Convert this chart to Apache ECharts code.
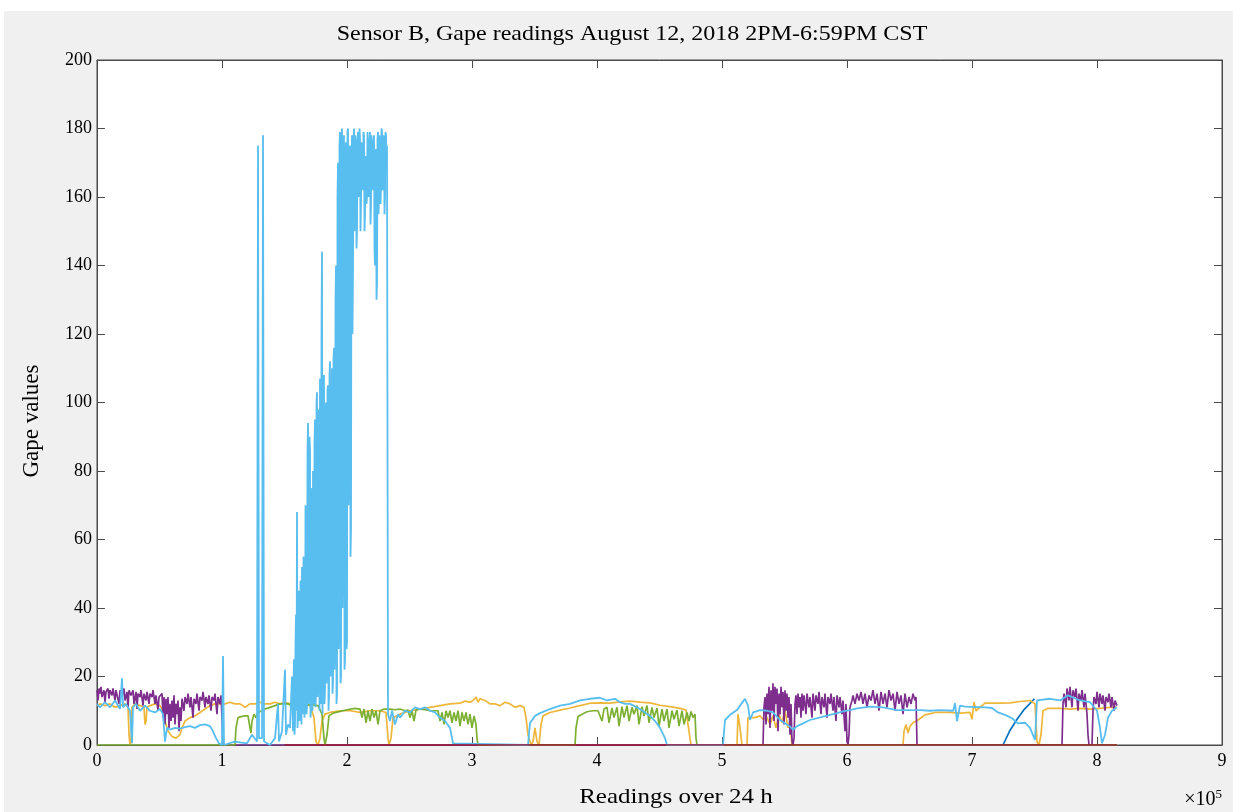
<!DOCTYPE html>
<html>
<head>
<meta charset="utf-8">
<script src="https://cdn.jsdelivr.net/npm/echarts@6/dist/echarts.min.js"></script>
<style>
html,body{margin:0;padding:0;background:#fff;width:1233px;height:812px;overflow:hidden;}
#chart{position:absolute;left:4px;top:11px;width:1229px;height:801px;background:#f0f0f0;}
</style>
</head>
<body>
<div id="chart"></div>
<script>
// x values are readings in units of 1e5
const xTicks = [0,1,2,3,4,5,6,7,8,9];
const yTicks = [0,20,40,60,80,100,120,140,160,180,200];

const lightBlueA = [
[0,12],[0.024,11],[0.064,12.5],[0.104,11],[0.144,13],[0.184,10.5],[0.2,19.5],[0.208,11],[0.232,12],[0.264,10],[0.28,0.5],[0.288,11],[0.312,12],[0.344,10],[0.384,11.5],[0.424,10],[0.464,9.5],[0.504,10.5],[0.528,9],[0.544,1],[0.56,5],[0.584,4.5],[0.624,5],[0.664,4.8],[0.704,5.2],[0.744,5.5],[0.784,5],[0.824,5.8],[0.864,6],[0.904,5.5],[0.928,4],[0.952,2],[0.976,0.5],[1.0,0],[1.008,26],[1.016,0],[1.1,1],[1.2,0.5],[1.24,3],[1.28,1],[1.288,175],[1.296,2],[1.32,2],[1.328,178],[1.336,1],[1.384,0],[1.424,2],[1.448,12],[1.456,1],[1.48,4],[1.504,22],[1.512,3],[1.528,6],[1.544,5],[1.56,20]
];
// dense burst of readings between 1.568e5 and 2.32e5
const blueBurstStart = 1.568;
const blueBurstEnd = 2.32;
const blueBurstY = [
4,18,25,3,6,30,38,10,68,5,8,40,45,7,10,48,30,6,52,15,9,55,42,8,12,70,60,9,11,85,94,12,14,90,86,8,10,65,75,10,80,15,12,88,95,11,15,100,103,14,18,92,98,10,107,16,12,120,144,9,20,104,108,12,16,96,100,18,22,104,105,10,14,108,112,20,25,100,110,15,18,113,116,22,30,130,140,12,15,160,170,28,35,175,179,18,20,178,180,40,60,176,178,22,25,172,176,28,30,179,180,70,80,172,175,55,63,170,178,120,140,177,180,150,160,178,176,145,150,175,179,160,165,180,177,150,158,176,172,165,162,179,178,150,155,172,168,158,160,179,176,160,163,175,179,152,158,178,175,165,162,176,178,145,140,172,174,130,135,177,179,155,160,178,176,158,163,180,179,162,166,178,177,155,160,179,178,170,175
];
const lightBlueB = [
[2.328,9],[2.344,7],[2.36,10],[2.384,6],[2.408,9],[2.424,8],[2.464,10],[2.504,9.5],[2.544,11],[2.584,10.5],[2.624,11],[2.664,10],[2.704,9.5],[2.744,8],[2.784,7],[2.824,5],[2.848,0.5],[2.864,0],
[3.448,0],[3.464,6.4],[3.504,8.5],[3.544,9.3],[3.624,10.5],[3.704,11.5],[3.784,12],[3.864,13],[3.944,13.5],[4.024,13.8],[4.08,13],[4.144,13.5],[4.184,12.5],[4.224,12],[4.264,12],[4.344,10.5],[4.384,9.5],[4.424,8.5],[4.464,7],[4.504,5],[4.544,2],[4.56,0],
[5.008,0],[5.024,7.3],[5.064,8.8],[5.12,10.2],[5.16,12.3],[5.184,13.5],[5.208,11.5],[5.224,7.3],[5.248,9.5],[5.304,10.2],[5.36,10],[5.408,9.5],[5.464,7.3],[5.544,5.4],[5.568,4.4],[5.6,5.5],[5.648,6.3],[5.704,7.3],[5.808,8.3],[5.864,8.8],[5.92,9.3],[5.968,9.8],[6.024,10.2],[6.08,10.7],[6.184,11.2],[6.288,11],[6.4,10.2],[6.504,10.2],[6.584,10.2],[6.664,10],[6.744,10.2],[6.85,10],[6.864,12.2],[6.88,7],[6.904,11.5],[6.944,11.2],[7.104,11],[7.16,10.8],[7.208,9.5],[7.264,8.8],[7.32,7.8],[7.368,6.3],[7.424,6.5],[7.464,5],[7.504,1.5],
[7.52,13],[7.624,13.5],[7.704,13],[7.768,14.5],[7.864,13],[7.944,12.5],[8.0,10],[8.024,5],[8.04,0.5],[8.064,3],[8.088,8],[8.12,10],[8.16,11]
];
const darkBlue = [[4.7,0],[7.248,0],[7.3,4],[7.36,7.5],[7.42,10.5],[7.5,13.5]];
const purple = [
[0,16],[0.008,13],[0.016,16.5],[0.024,15],[0.032,17],[0.04,14],[0.056,16],[0.064,12.5],[0.072,15.5],[0.088,16.5],[0.096,13.5],[0.104,16],[0.12,14.5],[0.128,16.5],[0.144,13],[0.152,16],[0.168,15.5],[0.176,12],[0.184,16],[0.2,14],[0.216,16.5],[0.224,13],[0.24,15.5],[0.248,11],[0.256,16],[0.272,14.5],[0.288,16],[0.296,12],[0.312,15.5],[0.32,10.5],[0.328,15],[0.344,14],[0.352,16],[0.368,11.5],[0.376,15],[0.392,13],[0.4,15.5],[0.416,12],[0.424,15],[0.44,14],[0.448,16],[0.464,12],[0.472,14.5],[0.488,10],[0.496,14],[0.512,13.5],[0.52,15],[0.528,8],[0.536,14],[0.544,6],[0.552,13.5],[0.56,9],[0.568,14],[0.576,5],[0.584,12],[0.592,7],[0.6,13],[0.608,8],[0.616,14.5],[0.624,6],[0.632,12],[0.64,9],[0.648,13],[0.656,4],[0.664,11],[0.672,7],[0.68,13.5],[0.696,10],[0.704,14],[0.72,12],[0.728,15],[0.744,11],[0.752,14],[0.768,8],[0.776,13.5],[0.792,12],[0.8,15],[0.816,10],[0.824,14],[0.84,13],[0.848,15.5],[0.864,11],[0.872,14],[0.888,12],[0.896,14.5],[0.912,10],[0.92,14],[0.936,13],[0.944,15],[0.96,9],[0.968,14],[0.984,12],[0.992,14.5],[1.0,8],[1.008,0],
[5.328,0],[5.336,11],[5.344,14],[5.352,6],[5.36,15],[5.368,9],[5.376,17],[5.384,5],[5.392,16],[5.4,10],[5.408,18],[5.416,7],[5.424,17],[5.432,12],[5.44,16.5],[5.448,4],[5.456,15],[5.464,9],[5.472,17],[5.48,11],[5.488,15.5],[5.496,6],[5.504,16],[5.512,10],[5.52,15],[5.528,8],[5.536,14],[5.544,3],[5.552,12],[5.56,1],[5.568,0],[5.576,2],[5.584,12],[5.592,14.5],[5.6,9],[5.608,15],[5.616,11],[5.624,14],[5.632,8],[5.64,15],[5.648,10],[5.656,14.5],[5.672,9],[5.68,15],[5.696,11],[5.704,14],[5.72,8],[5.728,15],[5.744,10],[5.752,14.5],[5.768,12],[5.776,15.5],[5.792,9],[5.8,14],[5.816,11],[5.824,15],[5.84,8],[5.848,14],[5.864,12],[5.872,15],[5.888,10],[5.896,14],[5.912,7],[5.92,14.5],[5.936,11],[5.944,14],[5.96,9],[5.968,13],[5.984,4],[5.992,12],[6.0,1],[6.008,0],[6.016,3],[6.024,11],[6.04,13],[6.048,14.5],[6.064,12],[6.08,15],[6.096,13],[6.112,15.5],[6.128,12],[6.144,15],[6.16,11],[6.176,14.5],[6.192,13],[6.208,16],[6.224,12],[6.24,15],[6.256,10],[6.272,15.5],[6.288,12],[6.304,15],[6.32,11],[6.336,16],[6.352,13],[6.368,15],[6.384,10],[6.4,15.5],[6.416,12],[6.432,14.5],[6.448,9],[6.464,15],[6.48,11],[6.496,14],[6.512,12],[6.528,15],[6.544,13],[6.552,14],[6.56,0],
[7.72,0],[7.728,12],[7.736,15],[7.752,11],[7.76,16.5],[7.776,13],[7.784,17],[7.8,11],[7.808,16],[7.824,14],[7.832,16.5],[7.848,10],[7.856,15],[7.872,13],[7.88,16],[7.896,11],[7.904,15],[7.92,9],[7.928,3],[7.936,0],[7.96,0],[7.968,10],[7.976,14],[7.992,12],[8.0,15.5],[8.016,11],[8.024,15],[8.04,12],[8.048,14.5],[8.064,10],[8.072,14],[8.088,12.5],[8.096,15],[8.112,11],[8.12,14],[8.136,10],[8.144,13],[8.16,11.5]
];
const yellow = [
[0,11.5],[0.024,12],[0.064,11.5],[0.104,12],[0.144,11],[0.184,11.5],[0.224,12],[0.248,11],[0.256,3],[0.264,0],[0.272,1],[0.28,11],[0.304,12],[0.344,11.5],[0.376,11],[0.384,6],[0.392,7],[0.4,11],[0.424,11.5],[0.464,12],[0.504,11.5],[0.528,10],[0.544,7],[0.568,4],[0.6,2.5],[0.632,2],[0.664,3],[0.68,5],[0.704,7],[0.744,8],[0.784,8.5],[0.824,9.5],[0.864,10.5],[0.904,11.5],[0.944,12],[0.984,12],[1.024,12],[1.064,12.5],[1.104,12],[1.144,12],[1.184,11],[1.2,10.5],[1.224,12],[1.264,12],[1.304,12.5],[1.344,12],[1.384,12],[1.424,12.5],[1.464,12],[1.504,12.5],[1.544,12],[1.584,12],[1.624,12.5],[1.664,12],[1.704,11.5],[1.736,8],[1.752,1],[1.768,0],[1.784,2],[1.8,7],[1.824,9],[1.864,9.5],[1.944,10],[2.024,10],[2.104,9.5],[2.184,10],[2.264,10],[2.312,9.5],[2.328,2],[2.336,0],[2.352,2],[2.368,8],[2.4,8.5],[2.424,9],[2.504,10],[2.584,10.5],[2.664,11],[2.744,11.5],[2.824,12],[2.904,12.2],[2.944,12.8],[2.984,12.5],[3.008,13],[3.032,14],[3.048,12.5],[3.064,13.5],[3.104,13],[3.144,12],[3.184,12],[3.224,11.5],[3.264,12.5],[3.304,12],[3.344,11],[3.384,11.5],[3.416,11],[3.432,8],[3.448,3],[3.472,0],[3.488,1],[3.504,5],[3.52,1],[3.536,0],[3.552,6],[3.568,8.5],[3.624,9.5],[3.704,10.2],[3.784,10.8],[3.864,11.5],[3.944,12.2],[4.024,12.3],[4.104,12.2],[4.184,12.6],[4.264,12.8],[4.344,12.5],[4.424,12.3],[4.504,11.6],[4.584,11.2],[4.664,10.7],[4.712,10.2],[4.736,4],[4.752,0],
[5.12,0],[5.128,9],[5.144,5],[5.16,0],[5.2,0],[5.208,8],[5.224,7.5],[5.264,8],[5.304,8.5],[5.328,7.5],[5.36,8],[5.384,6],[5.408,8.5],[5.432,5],[5.456,9],[5.48,6.5],[5.504,10],[5.528,5],[5.544,7],[5.56,0],
[6.448,0],[6.456,4],[6.472,6],[6.488,3.5],[6.504,5.5],[6.528,6.5],[6.568,7.3],[6.624,8.8],[6.704,9.5],[6.824,9.5],[6.904,9.3],[6.984,9.5],[7.0,7.5],[7.016,12.5],[7.032,10],[7.104,12.2],[7.224,12.2],[7.304,12.3],[7.384,12.7],[7.464,13],[7.504,12],[7.52,1],[7.536,0],[7.552,3],[7.568,10],[7.608,10.7],[7.704,10.7],[7.784,10.5],[7.864,10.7],[7.944,10.5],[8.024,10.7],[8.104,11],[8.16,11]
];
const green = [
[0,0],[1.104,0],[1.112,5],[1.128,8],[1.152,8.3],[1.184,8.5],[1.208,8.5],[1.224,5],[1.232,3.5],[1.24,7],[1.256,9],[1.272,8],[1.288,9.5],[1.32,10],[1.344,10.5],[1.384,11],[1.424,11.5],[1.464,12],[1.528,12],[1.56,11.5],[1.624,11.5],[1.704,11.8],[1.768,11.5],[1.8,9],[1.816,2],[1.824,0],[1.84,3],[1.856,8.5],[1.888,9.3],[1.944,9.8],[2.0,10.3],[2.064,10.7],[2.104,10.5],[2.12,8],[2.136,10.5],[2.152,6.5],[2.168,10],[2.184,7],[2.2,10.5],[2.216,8],[2.232,10],[2.248,6],[2.264,10],[2.296,10.5],[2.344,10.5],[2.384,10.3],[2.424,10.5],[2.464,10],[2.488,10.2],[2.504,8],[2.52,10],[2.536,7],[2.552,10.2],[2.584,10.5],[2.624,10.3],[2.664,10],[2.728,10],[2.744,7],[2.76,9.5],[2.776,6],[2.792,10],[2.808,8],[2.824,10],[2.84,6.5],[2.856,9.5],[2.872,7],[2.888,10],[2.904,5.5],[2.92,9.5],[2.936,7],[2.952,9.5],[2.968,6],[2.984,9],[3.0,5],[3.016,8.5],[3.032,6],[3.04,2],[3.048,0],
[3.824,0],[3.832,5],[3.848,8.3],[3.88,9],[3.92,9.7],[3.968,10],[4.008,10],[4.04,7],[4.056,10.5],[4.08,11],[4.096,6.5],[4.12,10.8],[4.136,8],[4.16,11],[4.176,5.5],[4.2,11.2],[4.216,8],[4.24,11.5],[4.256,7],[4.28,11],[4.296,9],[4.32,11.5],[4.336,6],[4.36,11.2],[4.376,8.5],[4.4,11.5],[4.416,6.5],[4.44,11],[4.456,8],[4.48,10.8],[4.496,5.5],[4.52,10.5],[4.536,7],[4.56,10.5],[4.576,5],[4.6,10],[4.616,7.5],[4.64,10.2],[4.656,5.5],[4.68,10],[4.696,6],[4.72,9.5],[4.736,7],[4.752,9.8],[4.768,8],[4.784,9],[4.792,2],[4.8,0],[8.16,0]
];
const red = [[1.5,0],[8.16,0]];

const lightBlue = lightBlueA.slice();
const burstStep = (blueBurstEnd - blueBurstStart) / (blueBurstY.length - 1);
blueBurstY.forEach((v,i)=>{ lightBlue.push([+(blueBurstStart + i*burstStep).toFixed(4), v]); });
lightBlueB.forEach(p=>lightBlue.push(p));

const FONT = 'Liberation Serif';
const axisColor = '#4a4a4a';
function xAx(pos, labels){
  return {type:'value', min:0, max:9, interval:1, position:pos,
    axisLine:{show:true, onZero:false, lineStyle:{color:axisColor, width:1}},
    axisTick:{show:true, inside:true, length:8, lineStyle:{color:axisColor}},
    axisLabel:{show:labels, color:'#000', fontFamily:FONT, fontSize:18, margin:7},
    splitLine:{show:false}};
}
function yAx(pos, labels){
  return {type:'value', min:0, max:200, interval:20, position:pos,
    axisLine:{show:true, onZero:false, lineStyle:{color:axisColor, width:1}},
    axisTick:{show:true, inside:true, length:8, lineStyle:{color:axisColor}},
    axisLabel:{show:labels, color:'#000', fontFamily:FONT, fontSize:18, margin:5},
    splitLine:{show:false}};
}
function ln(name, data, color, w){
  return {name:name, type:'line', data:data, showSymbol:false, symbol:'none', sampling:null,
    lineStyle:{color:color, width:w||1.7}, itemStyle:{color:color}, animation:false, silent:true, clip:true};
}
const chart = echarts.init(document.getElementById('chart'), null, {renderer:'canvas'});
chart.setOption({
  animation:false,
  backgroundColor:'#f0f0f0',
  grid:{left:93, top:49, right:11, bottom:67, show:true, backgroundColor:'#ffffff', borderColor:axisColor, borderWidth:1, containLabel:false},
  xAxis:[xAx('bottom', true), xAx('top', false)],
  yAxis:[yAx('left', true), yAx('right', false)],
  series:[
    ln('darkBlue', darkBlue, '#0072bd'),
    ln('yellow', yellow, '#eeb63a'),
    ln('purple', purple, '#7e2f8e'),
    ln('green', green, '#7cb032'),
    ln('lightBlue', lightBlue, '#58bdef', 1.8),
    ln('red', red, '#a2142f')
  ],
  graphic:[
    {type:'text', x:628, y:23, scaleY:0.9, style:{text:'Sensor B, Gape readings August 12, 2018 2PM-6:59PM CST', font:'24px "Liberation Serif"', fill:'#000', align:'center', verticalAlign:'middle'}},
    {type:'text', x:672, y:786, scaleY:0.85, style:{text:'Readings over 24 h', font:'25px "Liberation Serif"', fill:'#000', align:'center', verticalAlign:'middle'}},
    {type:'text', x:28, y:410, rotation:Math.PI/2, style:{text:'Gape values', font:'23px "Liberation Serif"', fill:'#000', align:'center', verticalAlign:'middle'}},
    {type:'text', x:1218, y:789, style:{text:'×10{s|5}', rich:{s:{fontSize:13, fontFamily:FONT, verticalAlign:'top', padding:[0,0,10,0], fill:'#000'}}, font:'20px "Liberation Serif"', fill:'#000', align:'right', verticalAlign:'middle'}}
  ]
});
</script>
</body>
</html>
